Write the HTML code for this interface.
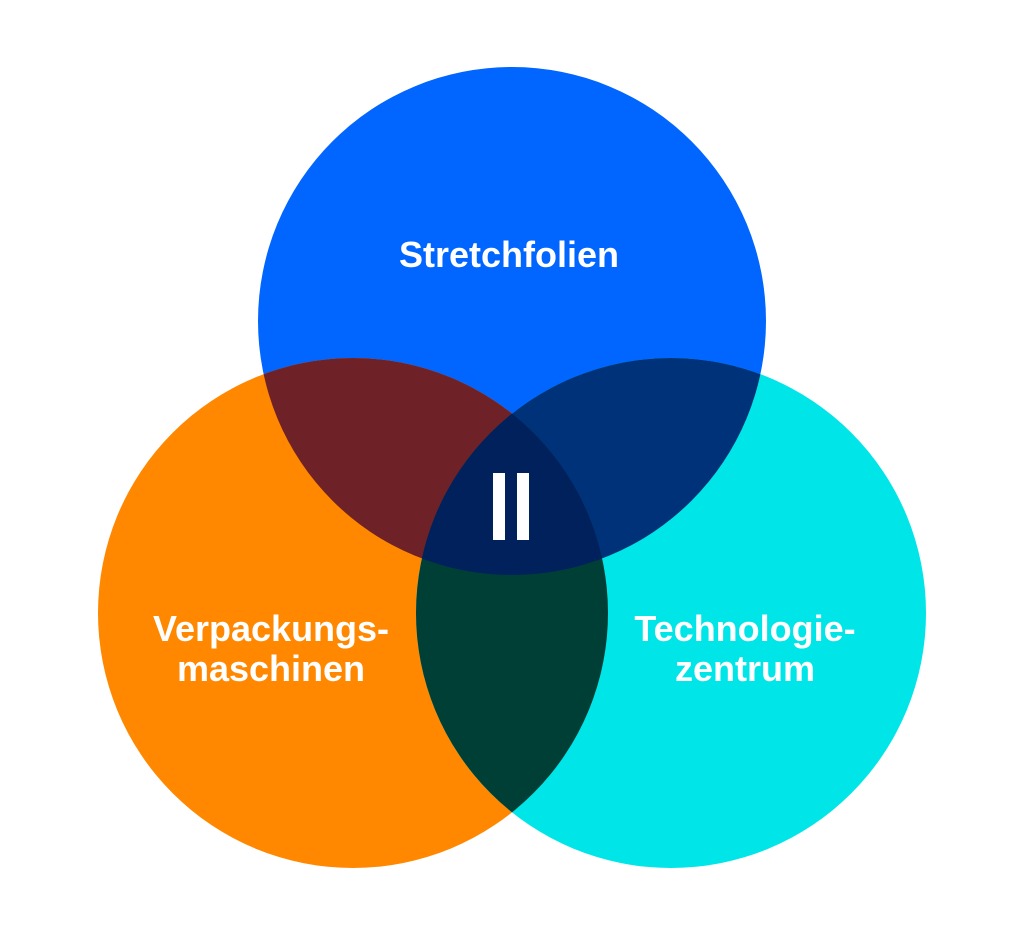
<!DOCTYPE html>
<html><head><meta charset="utf-8"><style>
html,body{margin:0;padding:0;background:#fff;}
svg{display:block;}
text{font-family:"Liberation Sans",sans-serif;font-weight:bold;fill:#fff;font-size:36px;text-anchor:middle;}
</style></head><body>
<svg width="1024" height="935" viewBox="0 0 1024 935">
<defs>
<clipPath id="cT"><circle cx="512" cy="321" r="254"/></clipPath>
<clipPath id="cL"><circle cx="353" cy="613" r="255"/></clipPath>
<clipPath id="cR"><circle cx="671" cy="613" r="255"/></clipPath>
</defs>
<circle cx="512" cy="321" r="254" fill="#0066ff"/>
<circle cx="353" cy="613" r="255" fill="#ff8800"/>
<circle cx="671" cy="613" r="255" fill="#00e5e8"/>
<g clip-path="url(#cT)"><circle cx="353" cy="613" r="255" fill="#6e2228"/><circle cx="671" cy="613" r="255" fill="#00327a"/></g>
<g clip-path="url(#cL)"><circle cx="671" cy="613" r="255" fill="#003f36"/></g>
<g clip-path="url(#cT)"><g clip-path="url(#cL)"><circle cx="671" cy="613" r="255" fill="#00215c"/></g></g>
<rect x="493" y="473" width="12" height="67" fill="#fff"/>
<rect x="517" y="473" width="12" height="67" fill="#fff"/>
<text x="509" y="267">Stretchfolien</text>
<text x="271" y="641">Verpackungs-</text>
<text x="271" y="681">maschinen</text>
<text x="745" y="641">Technologie-</text>
<text x="745" y="681">zentrum</text>
</svg>
</body></html>
